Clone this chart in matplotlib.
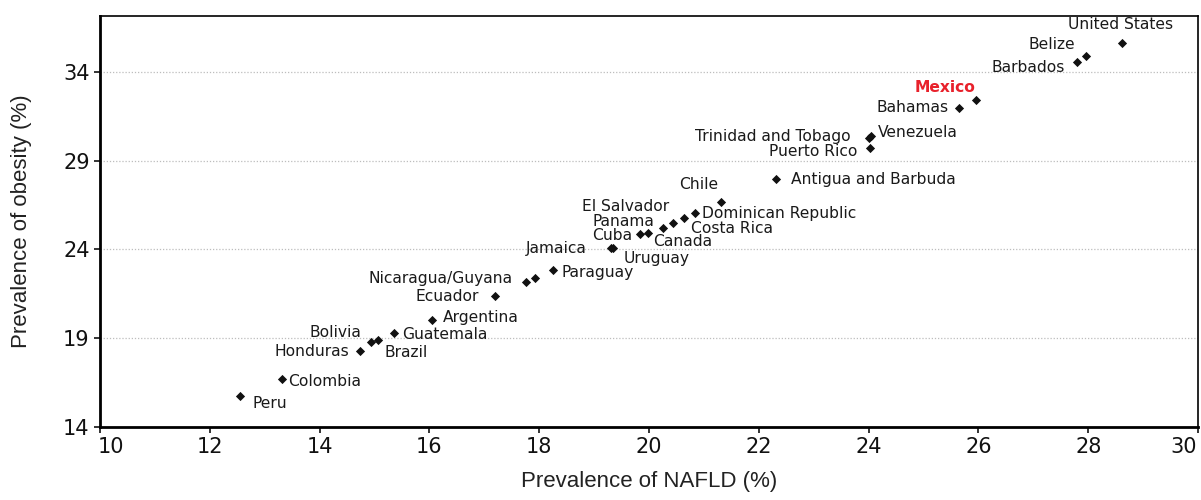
import matplotlib
matplotlib.use("Agg")
import matplotlib.pyplot as plt
from matplotlib.transforms import ScaledTranslation

# NAFLD vs obesity prevalence by country (%)
countries = [
    "Peru", "Colombia", "Honduras", "Bolivia", "Brazil", "Guatemala",
    "Argentina", "Ecuador", "Nicaragua/Guyana", "", "Paraguay", "Jamaica",
    "Uruguay", "Cuba", "Canada", "Panama", "El Salvador", "Costa Rica",
    "Dominican Republic", "Chile", "Antigua and Barbuda", "Puerto Rico",
    "Trinidad and Tobago", "Venezuela", "Bahamas", "Mexico", "Barbados",
    "Belize", "United States",
]
nafld = [
    12.55, 13.32, 14.74, 14.93, 15.06, 15.36,
    16.04, 17.19, 17.76, 17.93, 18.25, 19.31,
    19.35, 19.84, 19.98, 20.25, 20.44, 20.64,
    20.84, 21.32, 22.32, 24.02,
    24.00, 24.04, 25.65, 25.96, 27.79,
    27.96, 28.61,
]
obesity = [
    15.73, 16.69, 18.28, 18.80, 18.88, 19.26,
    20.01, 21.36, 22.17, 22.36, 22.83, 24.10,
    24.05, 24.86, 24.90, 25.18, 25.46, 25.74,
    26.02, 26.68, 27.94, 29.72,
    30.30, 30.36, 31.94, 32.41, 34.56,
    34.88, 35.63,
]
x_ticks = [10, 12, 14, 16, 18, 20, 22, 24, 26, 28, 30]
y_ticks = [14, 19, 24, 29, 34]
highlight = "Mexico"

# label placement: (dx px, dy px, horizontal alignment)
label_offsets = [
    (12, -7, "left"), (6, -3, "left"), (-11, -1, "right"), (-9, 9, "right"),
    (7, -12, "left"), (8, -1, "left"), (11, 3, "left"), (-16, 0, "right"),
    (-13, 3, "right"), (0, 0, "left"), (9, -2, "left"), (-24, -1, "right"),
    (10, -10, "left"), (-8, -1, "right"), (5, -8, "left"), (-8, 7, "right"),
    (-4, 17, "right"), (7, -10, "left"), (7, 0, "left"), (-3, 17, "right"),
    (15, 0, "left"), (-12, -4, "right"), (-18, 1, "right"), (7, 4, "left"),
    (-11, 1, "right"), (-1, 13, "right"), (-12, -6, "right"), (-11, 12, "right"),
    (-1, 18, "center"),
]

fig = plt.figure(figsize=(12.01, 5.0), dpi=100)
ax = fig.add_axes([0.0833, 0.1466, 0.9142, 0.8214])

ax.scatter(nafld, obesity, marker="D", s=22, color="#111111", zorder=3,
           linewidths=0)

for name, x, y, (dx, dy, ha) in zip(countries, nafld, obesity, label_offsets):
    if not name:
        continue
    style = dict(color="#1a1a1a", fontweight="normal")
    if name == highlight:
        style = dict(color="#e8212b", fontweight="bold")
    ax.annotate(name, (x, y), xytext=(dx, dy), textcoords="offset pixels",
                ha=ha, va="center", fontsize=11.2, family="DejaVu Sans",
                **style)

ax.set_xlim(10, 30)
ax.set_ylim(14, 37.15)
ax.set_xticks(x_ticks)
ax.set_yticks(y_ticks)
ax.tick_params(axis="both", direction="out", length=4, width=1.2,
               labelsize=15, colors="#111111")

# nudge the end tick labels inward so they stay inside the figure
xlabels = ax.get_xticklabels()
xlabels[0].set_transform(xlabels[0].get_transform()
                         + ScaledTranslation(0.11, 0, fig.dpi_scale_trans))
xlabels[-1].set_transform(xlabels[-1].get_transform()
                          + ScaledTranslation(-0.14, 0, fig.dpi_scale_trans))

for yv in y_ticks[1:]:
    ax.axhline(yv, color="#bdbdbd", linestyle=(0, (1, 1.5)), linewidth=0.9,
               zorder=1)

for side in ("left", "bottom"):
    ax.spines[side].set_linewidth(2.0)
for side in ("top", "right"):
    ax.spines[side].set_linewidth(1.2)

ax.set_xlabel("Prevalence of NAFLD (%)", fontsize=16, family="Liberation Sans",
              color="#222222", labelpad=10)
ax.set_ylabel("Prevalence of obesity (%)", fontsize=16,
              family="Liberation Sans", color="#222222")
ax.yaxis.set_label_coords(-0.062, 0.5)

fig.savefig("out.png", dpi=100, facecolor="white")
